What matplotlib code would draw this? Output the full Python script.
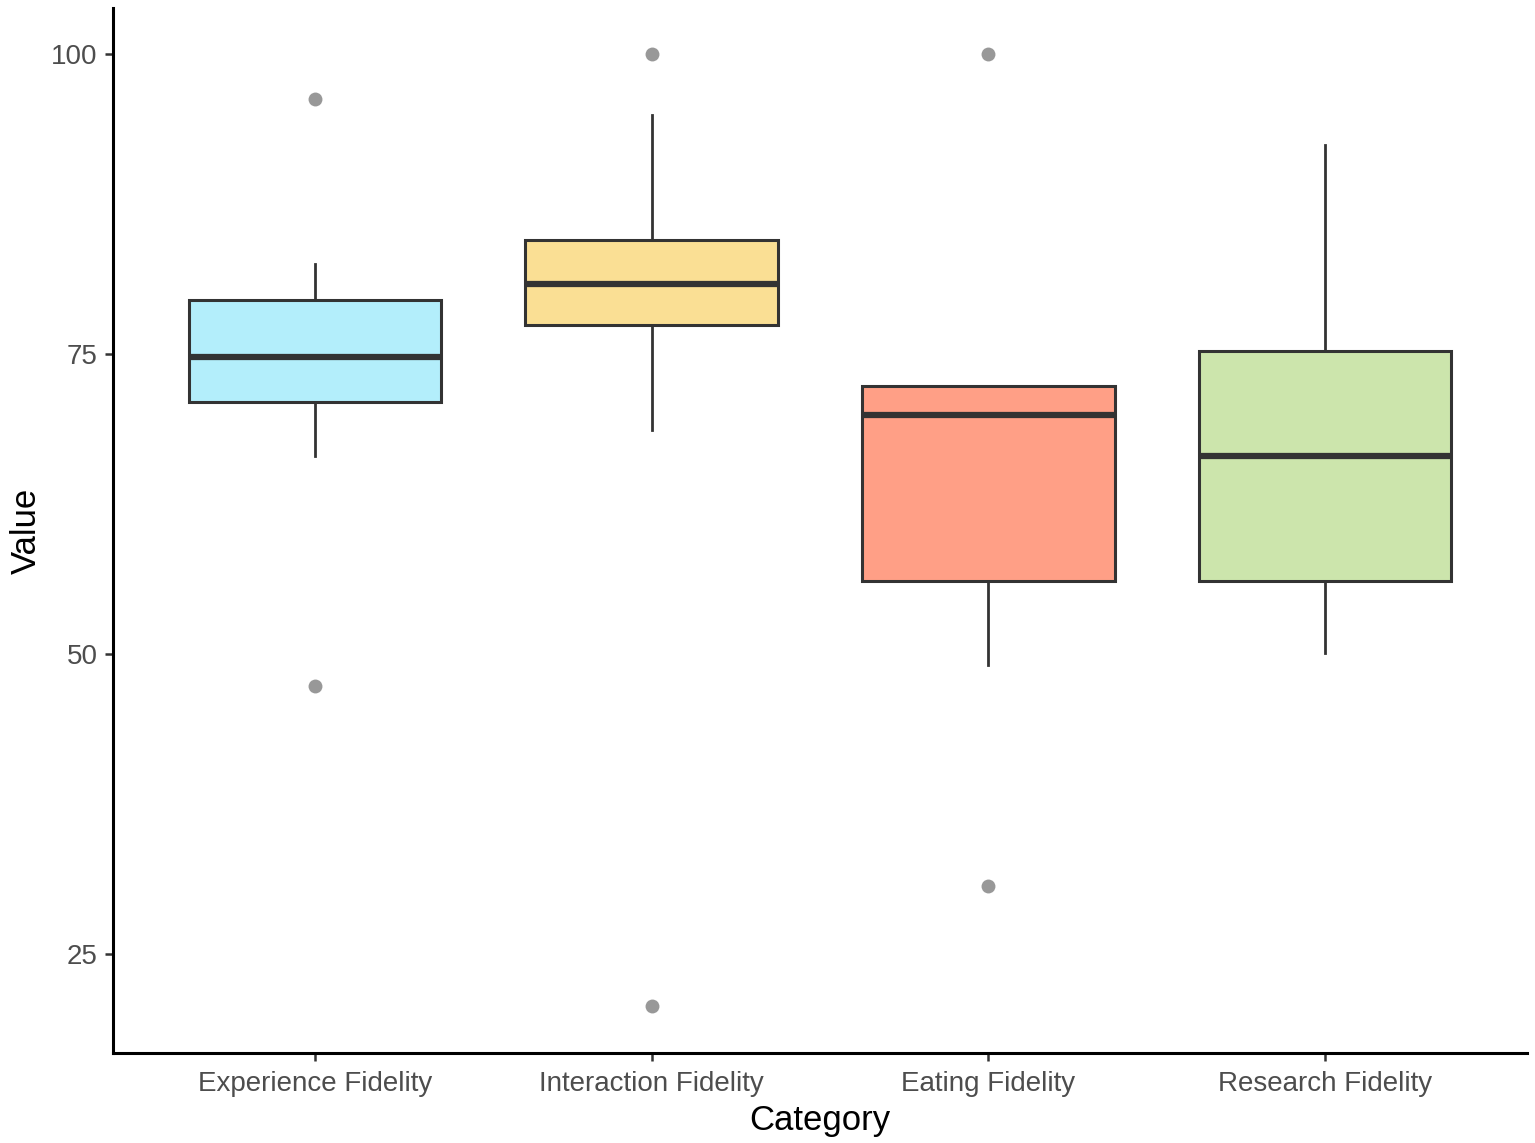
import matplotlib.pyplot as plt

plt.rcParams['font.family'] = ['Liberation Sans', 'DejaVu Sans']

# data (box summary values)
categories = ["Experience Fidelity", "Interaction Fidelity", "Eating Fidelity", "Research Fidelity"]
whisker_lo = [66.5, 68.7, 49.1, 50.1]
q1 = [71.0, 77.4, 56.1, 56.1]
median = [74.75, 80.8, 69.9, 66.5]
q3 = [79.5, 84.5, 72.3, 75.25]
whisker_hi = [82.5, 94.9, 72.3, 92.4]
outliers = [[96.25, 47.3], [100.0, 20.7], [100.0, 30.7], []]
colors = ["#B3EEFB", "#FADF94", "#FF9F86", "#CCE5AC"]

stats = []
for i, name in enumerate(categories):
    stats.append(dict(label=name, whislo=whisker_lo[i], q1=q1[i], med=median[i],
                      q3=q3[i], whishi=whisker_hi[i], fliers=outliers[i]))

fig = plt.figure(figsize=(15.35, 11.43), dpi=100)
ax = fig.add_axes([0.0736, 0.0787, 0.9212, 0.914])

edge = "#333333"
bp = ax.bxp(stats, positions=range(1, 5), widths=0.75, patch_artist=True,
            showcaps=False,
            boxprops=dict(edgecolor=edge, linewidth=2.2),
            medianprops=dict(color=edge, linewidth=4.5, solid_capstyle='butt'),
            whiskerprops=dict(color=edge, linewidth=2.0),
            flierprops=dict(marker='o', markersize=10, markerfacecolor='#7f7f7f',
                            markeredgecolor='none', alpha=0.8))
for patch, c in zip(bp['boxes'], colors):
    patch.set_facecolor(c)

ax.set_xlim(0.4, 4.6)
ax.set_ylim(16.75, 103.8)
ax.set_yticks([25, 50, 75, 100])

for spine in ["top", "right"]:
    ax.spines[spine].set_visible(False)
for spine in ["bottom", "left"]:
    ax.spines[spine].set_linewidth(2.2)
    ax.spines[spine].set_color("black")

ax.tick_params(axis='both', labelsize=20, labelcolor="#4D4D4D", color="#333333",
               length=6, width=1.8)
ax.tick_params(axis='x', pad=7)
ax.tick_params(axis='y', pad=5)
ax.set_xlabel("Category", fontsize=25, labelpad=5)
ax.set_ylabel("Value", fontsize=25, labelpad=6)

fig.savefig("out.png", dpi=100)
